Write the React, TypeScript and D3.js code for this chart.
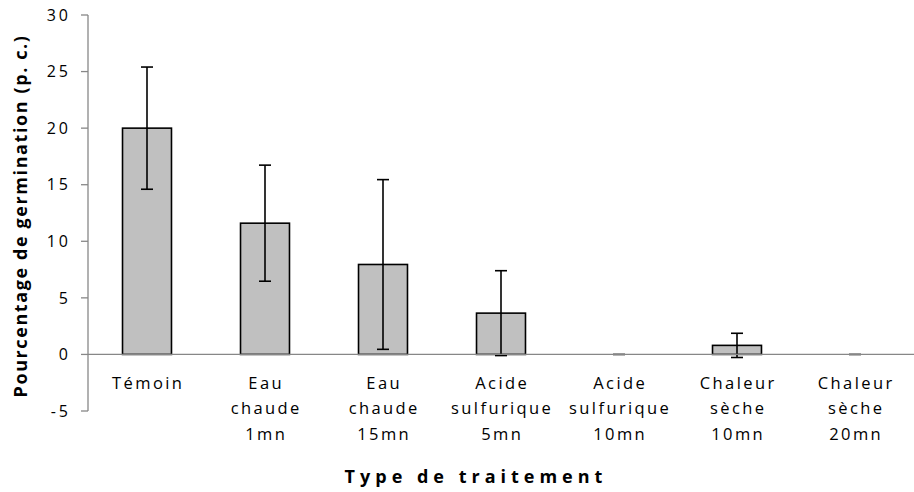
import React from "react";
import * as d3 from "d3";

const categories: string[][] = [
  ["Témoin"],
  ["Eau", "chaude", "1mn"],
  ["Eau", "chaude", "15mn"],
  ["Acide", "sulfurique", "5mn"],
  ["Acide", "sulfurique", "10mn"],
  ["Chaleur", "sèche", "10mn"],
  ["Chaleur", "sèche", "20mn"],
];
const values = [20, 11.6, 7.95, 3.65, 0, 0.8, 0];
const errors = [5.4, 5.13, 7.5, 3.75, 0, 1.07, 0];
const yTicks = [-5, 0, 5, 10, 15, 20, 25, 30];

const W = 914;
const H = 492;
const left = 88;
const right = 914;
const top = 15;
const bottom = 411;

export default function App() {
  const x = d3
    .scaleBand<number>()
    .domain(categories.map((_, i) => i))
    .range([left, right])
    .paddingInner(0.585)
    .paddingOuter(0.2925);
  const y = d3.scaleLinear().domain([-5, 30]).range([bottom, top]);
  const bw = x.bandwidth();
  const font = "'Open Sans', 'Liberation Sans', sans-serif";
  const axisColor = "#878787";

  return (
    <svg
      width={W}
      height={H}
      style={{ position: "absolute", left: 0, top: 0, background: "#fff" }}
      fontFamily={font}
    >
      {/* y axis */}
      <line x1={left} x2={left} y1={y(30)} y2={y(-5)} stroke={axisColor} strokeWidth={1.3} />
      {yTicks.map((t) => (
        <g key={t}>
          <line x1={left - 7} x2={left} y1={y(t)} y2={y(t)} stroke={axisColor} strokeWidth={1.3} />
          <text
            x={68 + 3}
            y={y(t)}
            dy="0.36em"
            textAnchor="end"
            fontSize={16}
            letterSpacing={3}
            fill="#000"
          >
            {t}
          </text>
        </g>
      ))}
      {/* bars */}
      {values.map((v, i) => {
        const x0 = x(i)!;
        const y0 = y(Math.max(v, 0));
        const h = Math.abs(y(v) - y(0));
        const cx = x0 + bw / 2;
        return (
          <g key={i}>
            <rect
              x={x0}
              y={y0}
              width={bw}
              height={h}
              fill="#c0c0c0"
              stroke="#000"
              strokeWidth={1.6}
            />
            {errors[i] > 0 && (
              <g stroke="#000" strokeWidth={1.6}>
                <line x1={cx} x2={cx} y1={y(v + errors[i])} y2={y(v - errors[i])} />
                <line x1={cx - 6} x2={cx + 6} y1={y(v + errors[i])} y2={y(v + errors[i])} />
                <line x1={cx - 6} x2={cx + 6} y1={y(v - errors[i])} y2={y(v - errors[i])} />
              </g>
            )}
            {v === 0 && (
              <line x1={cx - 6} x2={cx + 6} y1={y(0)} y2={y(0)} stroke="#555" strokeWidth={2} />
            )}
          </g>
        );
      })}
      {/* x axis line at zero */}
      <line x1={left} x2={right} y1={y(0)} y2={y(0)} stroke={axisColor} strokeWidth={1.3} />
      {/* x labels */}
      {categories.map((lines, i) => (
        <text
          key={i}
          x={x(i)! + bw / 2}
          y={389}
          textAnchor="middle"
          fontSize={16.5}
          letterSpacing={2.4}
          fill="#000"
        >
          {lines.map((l, j) => (
            <tspan key={j} x={x(i)! + bw / 2 + 1.2} y={389 + j * 25.3}>
              {l}
            </tspan>
          ))}
        </text>
      ))}
      {/* axis titles */}
      <text
        x={476}
        y={483}
        textAnchor="middle"
        fontSize={18}
        fontWeight="bold"
        letterSpacing={5}
        fill="#000"
      >
        Type de traitement
      </text>
      <text
        transform={`translate(27, 216) rotate(-90)`}
        textAnchor="middle"
        fontSize={18}
        fontWeight="bold"
        letterSpacing={1.6}
        fill="#000"
      >
        Pourcentage de germination (p. c.)
      </text>
    </svg>
  );
}
